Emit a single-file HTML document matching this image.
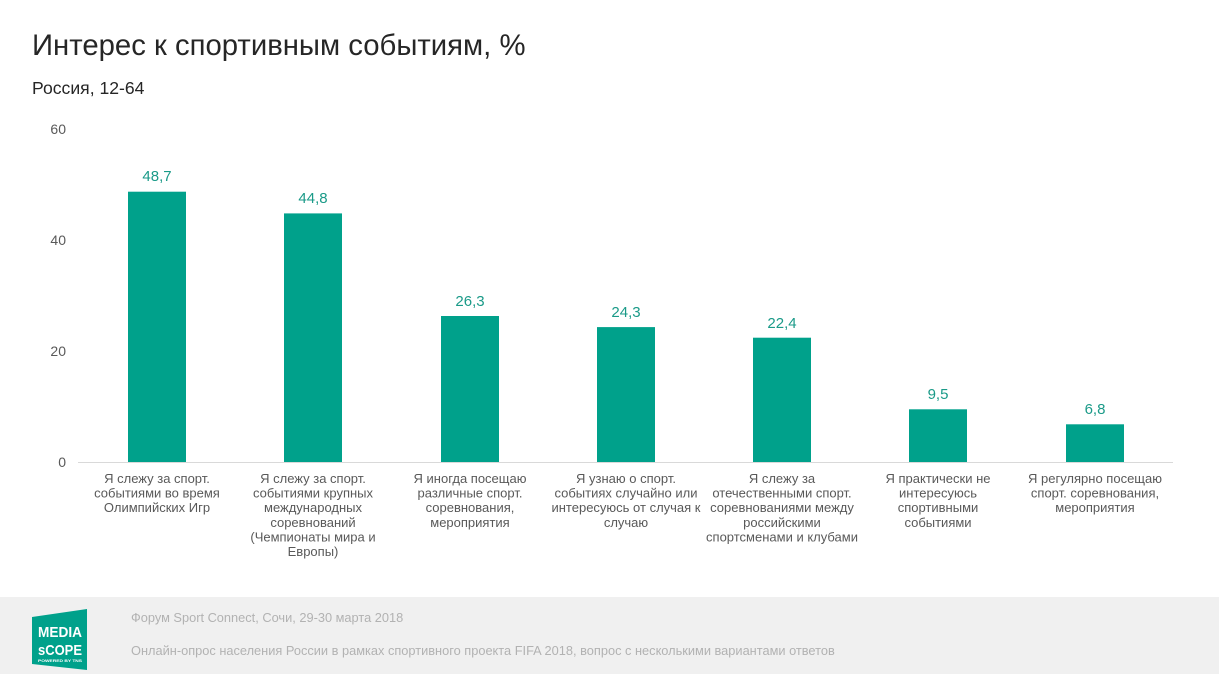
<!DOCTYPE html>
<html><head><meta charset="utf-8"><style>
html,body{margin:0;padding:0;background:#fff;}
body{width:1219px;height:674px;overflow:hidden;position:relative;font-family:"Liberation Sans","Noto Sans CJK SC",sans-serif;}
svg{position:absolute;left:0;top:0;}
</style></head><body>
<svg width="1219" height="674" viewBox="0 0 1219 674" xmlns="http://www.w3.org/2000/svg" font-family="Liberation Sans, Noto Sans CJK SC, sans-serif">
<text x="32" y="55" font-size="29.3" fill="#262626">Интерес к спортивным событиям, %</text>
<text x="32" y="94" font-size="17.6" fill="#262626">Россия, 12-64</text>
<g font-size="14" fill="#595959" text-anchor="end">
<text x="66" y="134">60</text>
<text x="66" y="245">40</text>
<text x="66" y="356">20</text>
<text x="66" y="467">0</text>
</g>
<g fill="#00a18b">
<rect x="128" y="191.7" width="58" height="270.3"/>
<rect x="284" y="213.4" width="58" height="248.6"/>
<rect x="441" y="316" width="58" height="146"/>
<rect x="597" y="327.1" width="58" height="134.9"/>
<rect x="753" y="337.7" width="58" height="124.3"/>
<rect x="909" y="409.3" width="58" height="52.7"/>
<rect x="1066" y="424.3" width="58" height="37.7"/>
</g>
<line x1="78" y1="462.5" x2="1173" y2="462.5" stroke="#d9d9d9" stroke-width="1"/>
<g font-size="15" fill="#1a9a88" text-anchor="middle">
<text x="157" y="181">48,7</text>
<text x="313" y="203">44,8</text>
<text x="470" y="306">26,3</text>
<text x="626" y="317">24,3</text>
<text x="782" y="328">22,4</text>
<text x="938" y="399">9,5</text>
<text x="1095" y="414">6,8</text>
</g>
<g font-size="13" fill="#595959" text-anchor="middle">
<text x="157" y="483">Я слежу за спорт.</text>
<text x="157" y="497.6">событиями во время</text>
<text x="157" y="512.2">Олимпийских Игр</text>
<text x="313" y="483">Я слежу за спорт.</text>
<text x="313" y="497.6">событиями крупных</text>
<text x="313" y="512.2">международных</text>
<text x="313" y="526.8">соревнований</text>
<text x="313" y="541.4">(Чемпионаты мира и</text>
<text x="313" y="556">Европы)</text>
<text x="470" y="483">Я иногда посещаю</text>
<text x="470" y="497.6">различные спорт.</text>
<text x="470" y="512.2">соревнования,</text>
<text x="470" y="526.8">мероприятия</text>
<text x="626" y="483">Я узнаю о спорт.</text>
<text x="626" y="497.6">событиях случайно или</text>
<text x="626" y="512.2">интересуюсь от случая к</text>
<text x="626" y="526.8">случаю</text>
<text x="782" y="483">Я слежу за</text>
<text x="782" y="497.6">отечественными спорт.</text>
<text x="782" y="512.2">соревнованиями между</text>
<text x="782" y="526.8">российскими</text>
<text x="782" y="541.4">спортсменами и клубами</text>
<text x="938" y="483">Я практически не</text>
<text x="938" y="497.6">интересуюсь</text>
<text x="938" y="512.2">спортивными</text>
<text x="938" y="526.8">событиями</text>
<text x="1095" y="483">Я регулярно посещаю</text>
<text x="1095" y="497.6">спорт. соревнования,</text>
<text x="1095" y="512.2">мероприятия</text>
</g>
<rect x="0" y="597" width="1219" height="77" fill="#f0f0f0"/>
<polygon points="32,617 87,609 87,670 32,664" fill="#00a18b"/>
<g fill="#ffffff" font-family="Liberation Sans Narrow, Liberation Sans, sans-serif" font-weight="bold">
<text x="38" y="637" font-size="15" textLength="44" lengthAdjust="spacingAndGlyphs">MEDIA</text>
<text x="38" y="655" font-size="15" textLength="44" lengthAdjust="spacingAndGlyphs">sCOPE</text>
<text x="38" y="662" font-size="4" textLength="44" lengthAdjust="spacingAndGlyphs">POWERED BY TNS</text>
</g>
<text x="131" y="622" font-size="12.8" fill="#b2b2b2">Форум Sport Connect, Сочи, 29-30 марта 2018</text>
<text x="131" y="655" font-size="12.8" fill="#b2b2b2">Онлайн-опрос населения России в рамках спортивного проекта FIFA 2018, вопрос с несколькими вариантами ответов</text>
</svg>
</body></html>
